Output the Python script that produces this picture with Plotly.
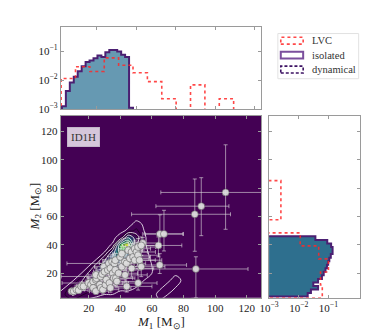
import plotly.graph_objects as go

FONT = "Liberation Serif"

# --- top histogram (M1) ---
m1_lvc_edges = [2.5, 11.6, 20.7, 29.8, 38.9, 48.0, 57.1, 66.2, 75.3, 84.4, 93.5, 102.6, 111.7]
m1_lvc_dens = [0.0115, 0.029, 0.020, 0.059, 0.033, 0.018, 0.0089, 0.0023, 0, 0.0069, 0, 0.0023]

m1_iso_edges = [3.0, 5.5, 8.0, 10.5, 13.0, 15.5, 18.0, 20.5, 23.0, 25.5, 28.0,
                30.5, 33.0, 35.5, 38.0, 40.5, 43.0, 45.5, 48.0]
m1_iso_dens = [0.00126, 0.00427, 0.00832, 0.0132, 0.0204, 0.0302, 0.0427, 0.0479, 0.0575,
               0.0708, 0.0631, 0.0933, 0.1096, 0.1096, 0.0977, 0.0759, 0.0631, 0.00112]

# --- right histogram (M2) ---
m2_lvc_edges = [2.5, 11.7, 20.9, 30.1, 39.3, 48.5, 57.7, 66.9, 76.1, 85.3]
m2_lvc_dens = [0.062, 0.054, 0.100, 0.047, 0.0112, 0, 0.0025, 0.0025, 0.0025]

m2_iso_edges = [3.5, 6.0, 8.5, 11.0, 13.5, 16.0, 18.5, 21.0, 23.5, 26.0,
                28.5, 31.0, 33.5, 36.0, 38.5, 41.0, 43.5, 46.0]
m2_iso_dens = [0.0200, 0.0257, 0.0447, 0.0309, 0.0447, 0.0603, 0.0692, 0.0794, 0.0891,
               0.0977, 0.107, 0.120, 0.138, 0.138, 0.123, 0.0912, 0.0363]

# --- density grid for the main panel ---
grid_x = [0, 5, 10, 15, 20, 25, 30, 35, 40, 45, 50, 55, 60, 65, 70, 75, 80, 85]
grid_y = [0, 5, 10, 15, 20, 25, 30, 35, 40, 45, 50, 55, 60]
grid_z = [
    [0, 0.6, 0.5, 0.2, 0.1, 0.1, 0.1, 0.1, 0.1, 0.1, 0.05, 0, 0, 0.2, 0, 0, 0, 0],
    [0.2, 1.0, 2.0, 1.2, 0.6, 0.4, 0.3, 0.3, 0.2, 0.2, 0.1, 0.1, 0.05, 0.5, 0.3, 0, 0, 0],
    [0, 0.3, 1.5, 2.5, 1.8, 1.0, 0.7, 0.5, 0.4, 0.4, 0.3, 0.2, 0.1, 0.2, 0.5, 0.3, 0, 0],
    [0, 0, 0.2, 1.5, 3.0, 2.5, 1.5, 1.0, 0.8, 0.6, 0.4, 0.3, 0.2, 0, 0.2, 0.5, 0.2, 0],
    [0, 0, 0, 0.2, 2.0, 3.5, 3.0, 2.0, 1.5, 1.0, 0.6, 0.4, 0.3, 0, 0, 0.2, 0.3, 0],
    [0, 0, 0, 0, 0.3, 2.5, 4.0, 3.5, 2.5, 1.8, 0.9, 0.5, 0.3, 0, 0, 0, 0, 0],
    [0, 0, 0, 0, 0, 0.3, 3.0, 5.0, 4.5, 3.0, 1.2, 0.6, 0.2, 0, 0, 0, 0, 0],
    [0, 0, 0, 0, 0, 0, 0.3, 4.0, 7.0, 5.0, 1.5, 0.5, 0.1, 0, 0, 0, 0, 0],
    [0, 0, 0, 0, 0, 0, 0, 0.4, 7.5, 9.0, 2.0, 0.4, 0, 0, 0, 0, 0, 0],
    [0, 0, 0, 0, 0, 0, 0, 0, 0.8, 5.0, 2.5, 0.4, 0, 0, 0, 0, 0, 0],
    [0, 0, 0, 0, 0, 0, 0, 0, 0, 0.5, 1.2, 0.3, 0, 0, 0, 0, 0, 0],
    [0, 0, 0, 0, 0, 0, 0, 0, 0, 0, 0.5, 0.2, 0, 0, 0, 0, 0, 0],
    [0, 0, 0, 0, 0, 0, 0, 0, 0, 0, 0, 0, 0, 0, 0, 0, 0, 0],
]

# --- observed events (M1, M2 with asymmetric errors) ---
m1 = [106.6, 91.2, 87.1, 87.8, 65.0, 67.6, 64.1, 64.9, 51.2, 54.2,
      9.1, 10.5, 12.2, 13.6, 15.2, 16.7, 19.8, 21.4, 22.8, 22.8,
      24.5, 24.5, 24.9, 24.5, 27.0, 27.6, 27.6, 28.5, 29.0, 29.6,
      30.0, 30.6, 31.1, 32.1, 32.7, 33.1, 33.7, 33.7, 34.8, 35.2,
      35.8, 36.2, 36.8, 36.8, 37.2, 37.8, 38.9, 39.9, 40.9, 40.9,
      42.9, 43.0, 44.0, 44.0, 45.0, 46.0, 47.1, 47.1, 48.1, 49.1,
      49.1, 50.2, 51.2, 51.2, 52.2, 53.2, 53.2]
m2 = [77.0, 67.3, 61.6, 23.0, 47.7, 47.7, 39.6, 25.8, 13.1, 41.3,
      7.3, 7.3, 8.5, 8.0, 10.8, 10.7, 13.1, 11.9, 14.2, 9.6,
      15.4, 7.3, 16.5, 18.8, 11.9, 17.7, 9.6, 19.5, 8.4, 24.6,
      21.1, 11.9, 15.4, 22.3, 27.0, 13.1, 23.5, 9.6, 28.1, 20.0,
      16.5, 26.9, 29.2, 22.3, 16.5, 14.2, 20.0, 31.5, 33.8, 24.6,
      28.1, 18.8, 27.0, 10.7, 36.2, 30.4, 35.0, 23.4, 31.5, 37.3,
      29.2, 35.0, 38.5, 32.7, 29.2, 39.6, 24.6]
m1_lo = [41, 28.7, 40, 40.7, 10.8, 12, 16, 14, 10, 6,
         2, 2, 3, 3, 3, 4, 4, 5, 5, 5,
         5, 4, 6, 5, 6, 25, 5, 6, 6, 6,
         7, 6, 7, 7, 6, 30, 6, 7, 6, 7,
         8, 30, 6, 7, 8, 8, 8, 6, 6, 8,
         8, 9, 8, 10, 6, 8, 7, 9, 8, 7,
         9, 8, 8, 9, 10, 8, 10]
m1_hi = [35, 17.5, 22.6, 33, 14.9, 12, 14.8, 17, 12, 10,
         3, 4, 5, 6, 6, 8, 8, 9, 8, 10,
         9, 8, 10, 8, 10, 15, 8, 9, 10, 8,
         10, 12, 12, 10, 8, 12, 9, 13, 8, 10,
         12, 10, 8, 10, 12, 14, 12, 9, 8, 12,
         11, 14, 12, 16, 9, 12, 10, 14, 11, 10,
         13, 12, 11, 13, 14, 12, 15]
m2_lo = [26, 20.8, 26.1, 20.3, 9, 12, 8, 6, 5, 5,
         2, 2, 2, 2, 3, 3, 3, 3, 4, 3,
         4, 2, 4, 4, 3, 5, 3, 5, 3, 5,
         5, 3, 4, 5, 5, 4, 5, 3, 5, 5,
         5, 5, 5, 5, 5, 4, 5, 6, 6, 6,
         6, 5, 6, 4, 7, 7, 7, 6, 7, 7,
         7, 7, 7, 7, 7, 7, 7]
m2_hi = [33.6, 20.1, 24.9, 8.6, 13.5, 16.7, 6, 8, 10, 4,
         2, 2, 3, 3, 3, 3, 4, 4, 4, 4,
         5, 3, 5, 5, 5, 5, 4, 5, 4, 5,
         5, 5, 6, 5, 5, 6, 6, 5, 5, 6,
         6, 6, 5, 6, 6, 6, 6, 6, 5, 7,
         7, 7, 7, 6, 6, 7, 6, 8, 7, 6,
         8, 7, 6, 7, 8, 6, 8]

legend_names = ["LVC", "isolated", "dynamical"]

FLOOR = 1e-6


def step_h(edges, dens):
    xs = [edges[0]] + list(edges[:-1]) + [edges[-1]]
    ys = [FLOOR] + [d if d > 0 else FLOOR for d in dens] + [FLOOR]
    return xs, ys


def step_v(edges, dens):
    ys = [edges[0]] + list(edges[:-1]) + [edges[-1]]
    xs = [FLOOR] + [d if d > 0 else FLOOR for d in dens] + [FLOOR]
    return xs, ys


LVC_LINE = dict(color="rgba(255,40,40,0.85)", width=1.6, dash="dot")
ISO_COL = "#4b1f72"
viridis_dark = [[0, "#440154"], [0.25, "#440154"], [0.45, "#3b528b"],
                [0.62, "#21918c"], [0.8, "#5ec962"], [1, "#fde725"]]

fig = go.Figure()

# main panel: density + contours
fig.add_trace(go.Contour(
    x=grid_x, y=grid_y, z=grid_z, colorscale=viridis_dark, zmin=0, zmax=9,
    contours=dict(coloring="heatmap", showlines=False), showscale=False,
    hoverinfo="skip", xaxis="x", yaxis="y"))
fig.add_trace(go.Contour(
    x=grid_x, y=grid_y, z=grid_z,
    contours=dict(coloring="none", start=0.3, end=9, size=1.5),
    line=dict(color="white", width=0.8), showscale=False,
    hoverinfo="skip", xaxis="x", yaxis="y"))

fig.add_trace(go.Scatter(
    x=m1, y=m2, mode="markers", xaxis="x", yaxis="y",
    marker=dict(size=7, color="#dedede", line=dict(color="#555555", width=0.6), opacity=0.92),
    error_x=dict(type="data", symmetric=False, array=m1_hi, arrayminus=m1_lo,
                 color="rgba(225,225,225,0.6)", thickness=1, width=2),
    error_y=dict(type="data", symmetric=False, array=m2_hi, arrayminus=m2_lo,
                 color="rgba(225,225,225,0.6)", thickness=1, width=2)))

# top histogram
x, y = step_h(m1_iso_edges, m1_iso_dens)
fig.add_trace(go.Scatter(x=x, y=y, mode="lines", line_shape="hv", fill="toself",
                         fillcolor="#6699b2", line=dict(color=ISO_COL, width=2),
                         xaxis="x2", yaxis="y2"))
x, y = step_h(m1_lvc_edges, m1_lvc_dens)
fig.add_trace(go.Scatter(x=x, y=y, mode="lines", line_shape="hv", line=LVC_LINE,
                         xaxis="x2", yaxis="y2"))

# right histogram
x, y = step_v(m2_iso_edges, m2_iso_dens)
fig.add_trace(go.Scatter(x=x, y=y, mode="lines", line_shape="vh", fill="toself",
                         fillcolor="#2e6f8e", line=dict(color=ISO_COL, width=2),
                         xaxis="x3", yaxis="y3"))
x, y = step_v(m2_lvc_edges, m2_lvc_dens)
fig.add_trace(go.Scatter(x=x, y=y, mode="lines", line_shape="vh", line=LVC_LINE,
                         xaxis="x3", yaxis="y3"))

axis_common = dict(showline=True, linecolor="#9a9a9a", linewidth=1, mirror="allticks",
                   ticks="inside", ticklen=3, tickcolor="#9a9a9a", showgrid=False,
                   zeroline=False, tickfont=dict(family=FONT, size=11, color="#222"))

xr = [2.3, 129.2]
yr = [2.7, 130.9]
dom_x = [0.1176, 0.6684]
dom_y = [0.122, 0.6726]

fig.update_layout(
    width=374, height=336, margin=dict(l=0, r=0, t=0, b=0),
    paper_bgcolor="white", plot_bgcolor="white", showlegend=False,
    font=dict(family=FONT, size=11, color="#222"),
    xaxis=dict(axis_common, domain=dom_x, range=xr, anchor="y",
               tickvals=[20, 40, 60, 80, 100, 120]),
    yaxis=dict(axis_common, domain=dom_y, range=yr, anchor="x",
               tickvals=[20, 40, 60, 80, 100, 120]),
    xaxis2=dict(axis_common, domain=dom_x, range=xr, anchor="y2",
                tickvals=[25, 50, 75, 100, 125], showticklabels=False),
    yaxis2=dict(axis_common, domain=[0.6935, 0.9435], type="log", range=[-3, -0.15],
                anchor="x2", tickvals=[0.001, 0.01, 0.1],
                ticktext=["10<sup>−3</sup>", "10<sup>−2</sup>", "10<sup>−1</sup>"]),
    xaxis3=dict(axis_common, domain=[0.6898, 0.9385], type="log", range=[-3, 0.05],
                anchor="y3", tickvals=[0.001, 0.01, 0.1],
                ticktext=["10<sup>−3</sup>", "10<sup>−2</sup>", "10<sup>−1</sup>"]),
    yaxis3=dict(axis_common, domain=dom_y, range=yr, anchor="x3",
                tickvals=[20, 40, 60, 80, 100, 120], showticklabels=False),
)

fig.add_shape(type="rect", xref="x domain", yref="y domain", x0=0, x1=1, y0=0, y1=1,
              fillcolor="#440154", line=dict(width=0), layer="below")

# axis titles
fig.add_annotation(xref="paper", yref="paper", x=0.393, y=0.046, showarrow=False,
                   text="<i>M</i><sub>1</sub> [M<sub>⊙</sub>]",
                   font=dict(family=FONT, size=13, color="#222"), yanchor="middle")
fig.add_annotation(xref="paper", yref="paper", x=0.047, y=0.399, showarrow=False,
                   text="<i>M</i><sub>2</sub> [M<sub>⊙</sub>]", textangle=-90,
                   font=dict(family=FONT, size=13, color="#222"), xanchor="center")

fig.add_annotation(xref="x domain", yref="y domain", x=0.03, y=0.94,
                   xanchor="left", yanchor="top", text="ID1H", showarrow=False,
                   font=dict(family=FONT, size=11, color="#333"),
                   bgcolor="rgba(235,225,238,0.88)", bordercolor="rgba(200,190,205,0.9)",
                   borderwidth=1, borderpad=3)

# legend box drawn with patches like matplotlib
W, H = 374.0, 336.0
fig.add_shape(type="rect", xref="paper", yref="paper",
              x0=267 / W, x1=350 / W, y0=1 - 72 / H, y1=1 - 26 / H,
              line=dict(color="#e2e2e2", width=1), fillcolor="white")
leg_lines = [LVC_LINE, dict(color="#7b4f9d", width=2),
             dict(color="#3d1263", width=1.6, dash="3px,2px")]
for i, (name, ln) in enumerate(zip(legend_names, leg_lines)):
    yc = 33.3 + i * 14.7
    fig.add_shape(type="rect", xref="paper", yref="paper",
                  x0=270 / W, x1=293 / W, y0=1 - (yc + 3.5) / H, y1=1 - (yc - 3.5) / H,
                  line=ln, fillcolor="rgba(0,0,0,0)")
    fig.add_annotation(xref="paper", yref="paper", x=300 / W, y=1 - yc / H,
                       xanchor="left", yanchor="middle", text=name, showarrow=False,
                       font=dict(family=FONT, size=10.5, color="#333"))

fig.write_html("out.html")
